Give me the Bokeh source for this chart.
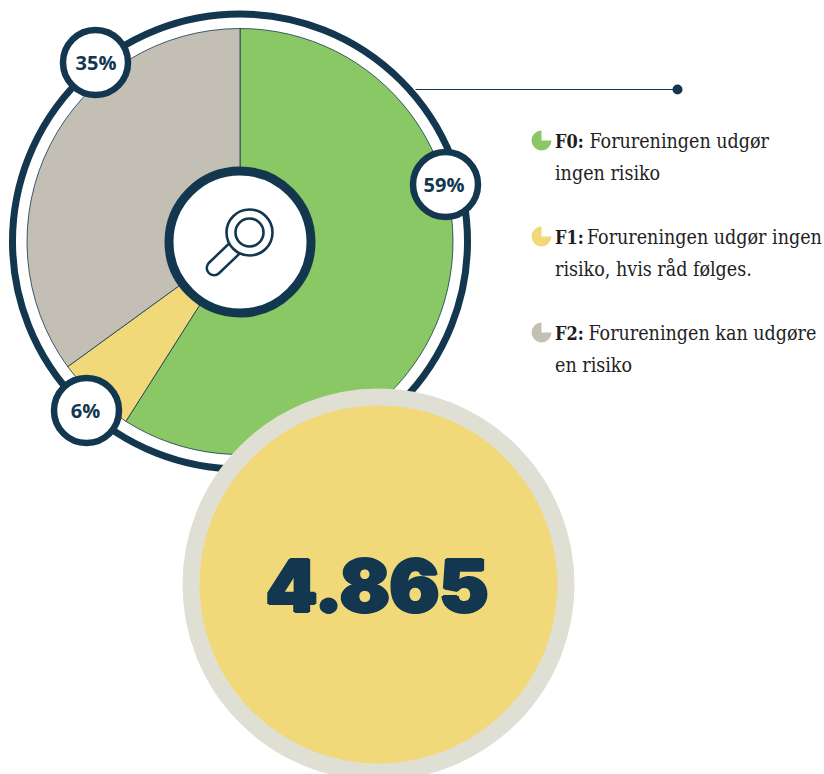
import math
from bokeh.plotting import figure
from bokeh.models import Range1d
from bokeh.core.properties import value
from bokeh.embed import file_html
from bokeh.resources import INLINE

categories = ["F0", "F1", "F2"]
shares = [59, 6, 35]
share_labels = ["59%", "6%", "35%"]
bold_labels = ["F0:", "F1:", "F2:"]
first_lines = ["Forureningen udgør", "Forureningen udgør ingen", "Forureningen kan udgøre"]
second_lines = ["ingen risiko", "risiko, hvis råd følges.", "en risiko"]
total_label = "4.865"

NAVY = "#12374F"
COLORS = ["#8AC765", "#F1D97A", "#C3BFB5"]
W, H = 824, 774

def X(px):
    return px

def Y(py):
    return H - py

p = figure(width=W, height=H, output_backend="svg", toolbar_location=None,
           x_range=Range1d(0, W), y_range=Range1d(0, H), min_border=0,
           outline_line_color=None, background_fill_color="white", border_fill_color="white")
p.axis.visible = False
p.grid.visible = False

CX, CY = 239.5, 241

def ring(px, py, r, fill, line, lw):
    p.circle(x=[X(px)], y=[Y(py)], radius=r, fill_color=fill, line_color=line, line_width=lw)

# pie from the shares, clockwise from 12 o'clock
start = math.pi / 2
total = sum(shares)
for v, c in zip(shares, COLORS):
    end = start - 2 * math.pi * v / total
    p.wedge(x=[X(CX)], y=[Y(CY)], radius=213, start_angle=end, end_angle=start,
            fill_color=c, line_color=NAVY, line_width=0.8)
    start = end

ring(CX, CY, 227.5, None, NAVY, 7)

# leader
p.line([X(415), X(677)], [Y(89), Y(89)], line_color=NAVY, line_width=1.2)
ring(677, 89, 5, NAVY, None, 0)

# centre badge and magnifier
ring(239.5, 241.5, 71, "white", NAVY, 9)
p.line([X(213.5), X(236)], [Y(267.5), Y(246)], line_color=NAVY, line_width=17, line_cap="round")
p.line([X(213.5), X(236)], [Y(267.5), Y(246)], line_color="white", line_width=12, line_cap="round")
ring(249, 232, 23, "white", NAVY, 2.6)
ring(249, 232, 14, "white", NAVY, 2.6)

# share badges
badge_pos = [(445, 184), (86, 410), (95, 62)]
label_dx = [-1.5, -1, 0.5]
for (bx, by), s, dx in zip(badge_pos, share_labels, label_dx):
    ring(bx, by, 32.5, "white", NAVY, 6.5)
    p.text(x=[X(bx + dx)], y=[Y(by - 0.5)], text=[s], text_font=value("Open Sans"), text_font_style="bold",
           text_font_size="20px", text_color=NAVY, text_align="center", text_baseline="middle")

# legend
leg_y = [141, 237, 333]
reg_x = [589, 586.5, 588]
for i, c in enumerate(COLORS):
    ly = leg_y[i]
    p.wedge(x=[X(541)], y=[Y(ly - 1)], radius=10, start_angle=math.pi / 2, end_angle=0,
            fill_color=c, line_color=None)
    p.text(x=[X(554.5)], y=[Y(ly)], text=[bold_labels[i]], text_font=value("DejaVu Serif Condensed"),
           text_font_style="bold", text_font_size="18px", text_color="#1E1E1E",
           text_align="left", text_baseline="middle")
    p.text(x=[X(reg_x[i])], y=[Y(ly)], text=[first_lines[i]], text_font=value("DejaVu Serif Condensed"),
           text_font_size="19.5px", text_color="#222222", text_align="left", text_baseline="middle")
    p.text(x=[X(554.5)], y=[Y(ly + 32)], text=[second_lines[i]], text_font=value("DejaVu Serif Condensed"),
           text_font_size="19.5px", text_color="#222222", text_align="left", text_baseline="middle")

# big total disc
ring(378, 584, 187.5, "#F1D97A", "#E0DFD3", 17)
# the reference numeral is heavier than any installed face: offset copies thicken it
for dx, dy in [(-1.6, 0), (1.6, 0), (0, -1), (0, 1), (0, 0)]:
    p.text(x=[X(376.5 + dx)], y=[Y(585 + dy)], text=[total_label], text_font=value("Inter Black"),
           text_font_style="bold", text_font_size="73.5px", text_color=NAVY,
           text_align="center", text_baseline="middle")

open("out.html", "w").write(file_html(p, INLINE))
